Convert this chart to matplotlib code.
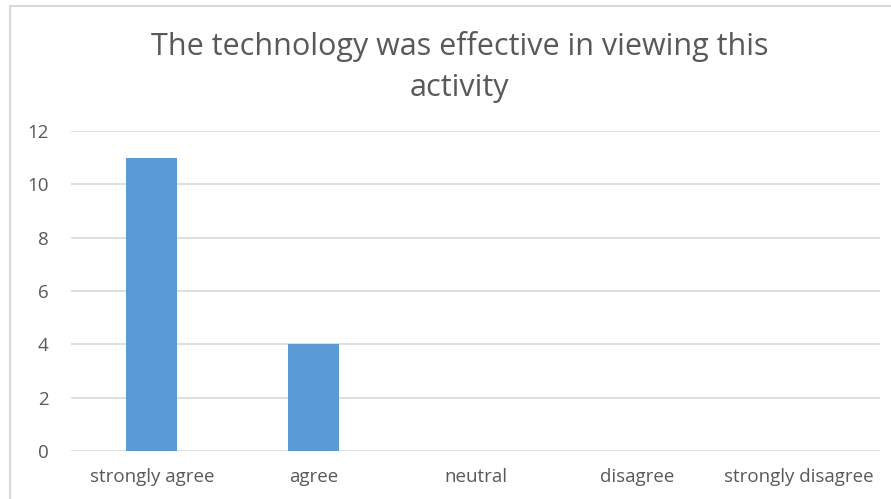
import matplotlib.pyplot as plt
from matplotlib.patches import Rectangle

categories = ["strongly agree", "agree", "neutral", "disagree", "strongly disagree"]
counts = [11, 4, 0, 0, 0]
title = "The technology was effective in viewing this\nactivity"

plt.rcParams['font.family'] = ['Open Sans', 'DejaVu Sans']

fig = plt.figure(figsize=(8.91, 4.99), dpi=100)
ax = fig.add_axes([71 / 891, 1 - 451 / 499, 809 / 891, 320 / 499])

# light grey frame around the whole chart
fig.patches.append(Rectangle((10 / 891, -0.1), 1.0, 1 - 6 / 499 + 0.1,
                             transform=fig.transFigure, fill=False,
                             edgecolor='#d9d9d9', linewidth=1.5))

x = range(len(categories))
ax.bar(x, counts, width=0.315, color='#5b9bd5', zorder=3)

ax.set_xlim(-0.5, len(categories) - 0.5)
ax.set_ylim(0, 12)
ax.set_yticks(range(0, 13, 2))
ax.set_xticks(list(x))
ax.set_xticklabels(categories)
ax.grid(axis='y', color='#d9d9d9', linewidth=1.2, zorder=0)
for s in ax.spines.values():
    s.set_visible(False)
ax.tick_params(length=0, labelsize=13.5, colors='#595959')
ax.tick_params(axis='x', pad=12)
ax.tick_params(axis='y', pad=16)

fig.text(0.516, 0.866, title, ha='center', va='center', fontsize=22,
         color='#595959', linespacing=1.5)

fig.savefig("out.png", dpi=100)
